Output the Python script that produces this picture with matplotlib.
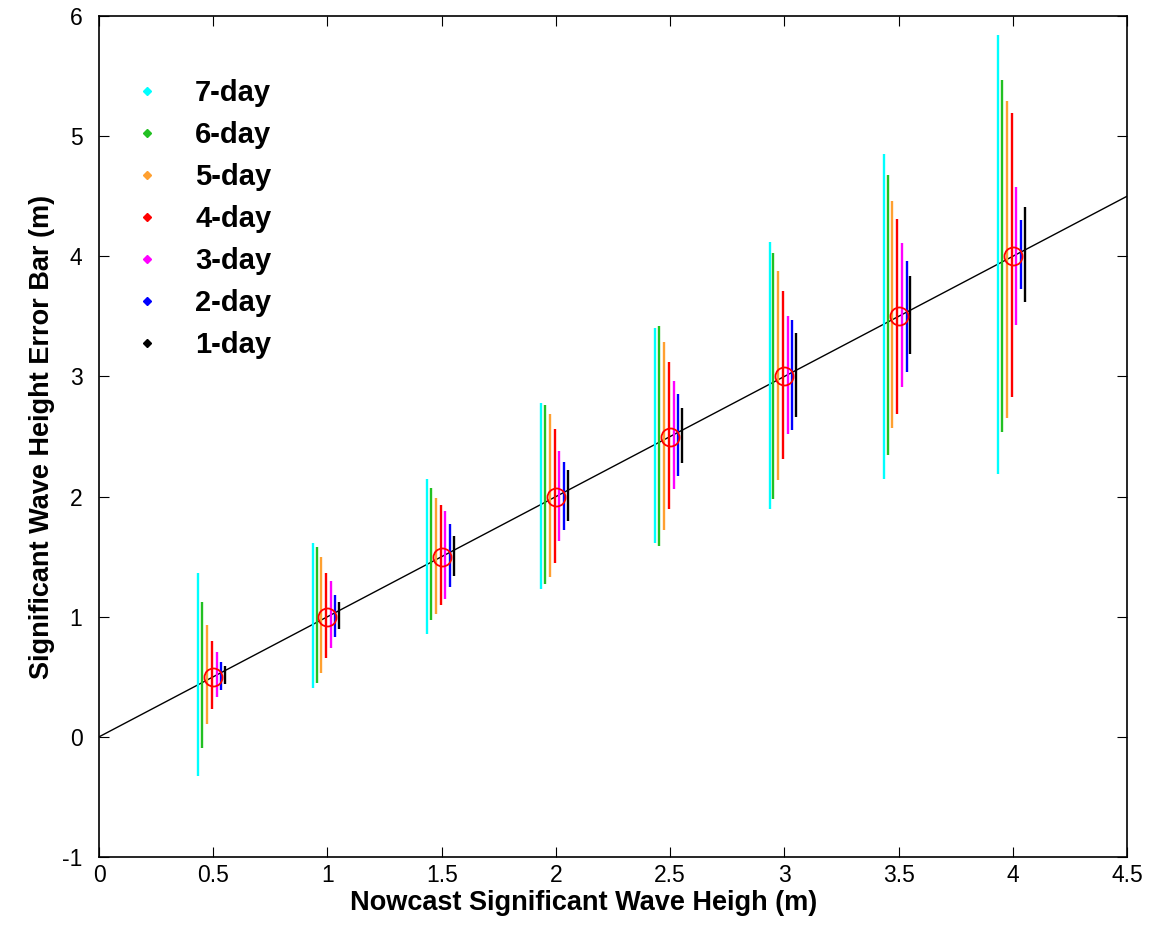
import matplotlib.pyplot as plt
import numpy as np

# nowcast wave heights (centres of each error-bar group)
nowcast = [0.5, 1.0, 1.5, 2.0, 2.5, 3.0, 3.5, 4.0]

labels = ['7-day', '6-day', '5-day', '4-day', '3-day', '2-day', '1-day']
colors = ['#00FFFF', '#22C022', '#FFA030', '#FF0000', '#FF00FF', '#0000FF', '#000000']
offsets = [-0.065, -0.048, -0.027, -0.005, 0.015, 0.035, 0.052]

# upper / lower ends of each error bar, one row per forecast lead time
upper = [
    [1.36, 1.61, 2.15, 2.78, 3.40, 4.12, 4.85, 5.84],  # 7-day
    [1.12, 1.58, 2.07, 2.76, 3.42, 4.03, 4.68, 5.47],  # 6-day
    [0.93, 1.50, 1.99, 2.69, 3.29, 3.88, 4.46, 5.29],  # 5-day
    [0.80, 1.36, 1.93, 2.56, 3.12, 3.71, 4.31, 5.19],  # 4-day
    [0.71, 1.30, 1.88, 2.38, 2.96, 3.50, 4.11, 4.58],  # 3-day
    [0.62, 1.18, 1.77, 2.29, 2.85, 3.47, 3.96, 4.30],  # 2-day
    [0.59, 1.12, 1.67, 2.22, 2.74, 3.36, 3.84, 4.41],  # 1-day
]
lower = [
    [-0.33, 0.41, 0.86, 1.23, 1.61, 1.90, 2.15, 2.19],
    [-0.09, 0.45, 0.97, 1.27, 1.59, 1.98, 2.35, 2.54],
    [0.11, 0.53, 1.02, 1.33, 1.72, 2.14, 2.57, 2.65],
    [0.23, 0.66, 1.10, 1.45, 1.90, 2.31, 2.69, 2.83],
    [0.33, 0.74, 1.15, 1.63, 2.06, 2.52, 2.91, 3.43],
    [0.39, 0.83, 1.25, 1.72, 2.17, 2.55, 3.04, 3.73],
    [0.44, 0.90, 1.34, 1.80, 2.28, 2.66, 3.19, 3.62],
]

plt.rcParams['font.family'] = ['Liberation Sans', 'DejaVu Sans']
plt.rcParams['axes.unicode_minus'] = False

fig = plt.figure(figsize=(11.53, 9.32), dpi=100)
ax = fig.add_axes([0.0859, 0.0805, 0.8916, 0.9023])

line_x = np.array([0, 4.5])
ax.plot(line_x, line_x, color='black', lw=1.0, zorder=2)

x = np.array(nowcast)
for i in range(len(labels)):
    ax.vlines(x + offsets[i], lower[i], upper[i], color=colors[i], lw=1.7, zorder=3)
    ax.plot([], [], ls='none', marker='D', ms=4, color=colors[i], label=labels[i])

ax.plot(x, x, ls='none', marker='o', ms=13, mfc='none', mec='red', mew=1.3, zorder=4)

ax.set_xlim(0, 4.5)
ax.set_ylim(-1, 6)
ax.set_xticks(np.arange(0, 4.51, 0.5))
ax.set_xticklabels(['0', '0.5', '1', '1.5', '2', '2.5', '3', '3.5', '4', '4.5'])
ax.set_yticks(np.arange(-1, 7, 1))
ax.tick_params(direction='in', top=True, right=True, labelsize=16.5, length=7)
ax.tick_params(axis='x', pad=5)
ax.tick_params(axis='y', pad=12)
for s in ax.spines.values():
    s.set_linewidth(1.2)

ax.set_xlabel('Nowcast Significant Wave Heigh (m)', fontsize=19.5, fontweight='bold')
ax.set_ylabel('Significant Wave Height Error Bar (m)', fontsize=19.5, fontweight='bold', labelpad=5)
ax.xaxis.set_label_coords(0.471, -0.039, transform=ax.transAxes)
ax.xaxis.label.set_va('top')

leg = ax.legend(loc='upper left', bbox_to_anchor=(0.007, 0.956), frameon=False,
                prop={'weight': 'bold', 'size': 21}, handlelength=1.0,
                handletextpad=1.15, labelspacing=0.48)

fig.savefig('out.png', dpi=100)
